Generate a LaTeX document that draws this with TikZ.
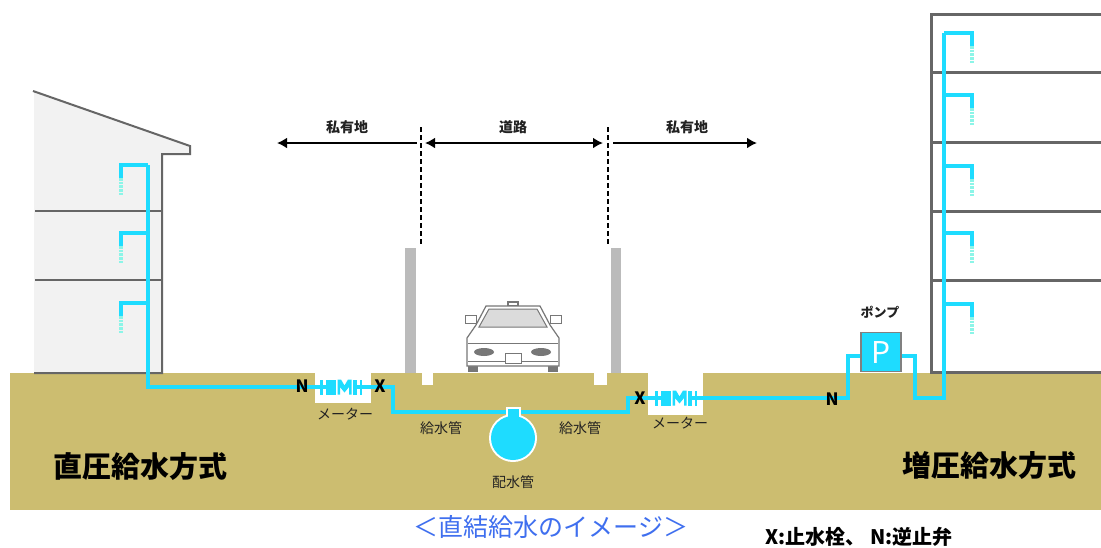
\documentclass[tikz,border=0pt]{standalone}
\usepackage{fontspec}
\newfontfamily\jp{Noto Sans CJK JP}
\usetikzlibrary{arrows.meta}
\definecolor{pipecol}{HTML}{1EDCFF}
\definecolor{pipelt}{HTML}{8CF5E8}
\definecolor{soil}{HTML}{CCBD70}
\definecolor{wallcol}{HTML}{666666}
\definecolor{housefill}{HTML}{F2F2F2}
\definecolor{polecol}{HTML}{BBBBBB}
\definecolor{capblue}{HTML}{3F6FEF}
\definecolor{carline}{HTML}{777777}
\definecolor{textgray}{HTML}{222222}

\tikzset{
  pipeline/.style={draw=pipecol, line width=4pt},
  dropline/.style={draw=pipelt, line width=4pt, dash pattern=on 2.5pt off 1.2pt},
  wallline/.style={draw=wallcol, line width=2pt},
  bldline/.style={draw=wallcol, line width=3pt},
  lbl/.style={font=\jp\fontsize{14}{16}\selectfont, text=textgray, inner sep=0pt},
  zone/.style={font=\jp\bfseries\fontsize{14}{16}\selectfont, text=textgray, inner sep=0pt},
  valve/.style={font=\jp\bfseries\fontsize{17}{18}\selectfont, text=black, inner sep=0pt},
  title/.style={font=\jp\bfseries\fontsize{29}{32}\selectfont, text=black, inner sep=0pt},
  span/.style={line width=2.2pt, draw=black},
  boundary/.style={line width=2pt, draw=black, dash pattern=on 5pt off 3pt},
  meterpic/.pic={
    \fill[pipecol] (-21,-7.5) rectangle (-18.5,7.5);
    \fill[pipecol] (-18.5,-2) rectangle (-15,2);
    \fill[pipecol] (-15,-7.5) rectangle (-5,7.5);
    \fill[pipecol] (-3.5,7.5) -- (-3.5,-7.5) -- (0,-7.5) -- (3.5,-1.5) -- (7,-7.5) -- (10.5,-7.5)
       -- (10.5,7.5) -- (8,7.5) -- (8,0) -- (3.5,5.5) -- (-1,0) -- (-1,7.5) -- cycle;
    \fill[pipecol] (12,-7.5) rectangle (15.5,7.5);
    \fill[pipecol] (15.5,-2) rectangle (18.5,2);
    \fill[pipecol] (18.5,-7.5) rectangle (21,7.5);
  }
}

\begin{document}
\begin{tikzpicture}[x=1pt,y=-1pt]
\useasboundingbox (0,0) rectangle (1101,547);
\fill[white] (0,0) rectangle (1101,547);

% ground and the pits cut into it
\fill[soil] (10,373) rectangle (1101,510);
\fill[white] (315,372) rectangle (371,403);
\fill[white] (648,372) rectangle (703,415);
\fill[white] (422,372) rectangle (433,385);
\fill[white] (594,372) rectangle (607,385);

% curb posts and property boundaries
\fill[polecol] (405,248) rectangle (416,373);
\fill[polecol] (611,248) rectangle (621,373);
\coordinate (bl1) at (421,127); \coordinate (bl2) at (421,245);
\coordinate (br1) at (608,127); \coordinate (br2) at (608,245);
\draw[boundary] (bl1) -- (bl2);
\draw[boundary] (br1) -- (br2);

% extent arrows
\coordinate (a1) at (277,143); \coordinate (a2) at (417,143);
\coordinate (a3) at (425,143); \coordinate (a4) at (603,143);
\coordinate (a5) at (613,143); \coordinate (a6) at (757,143);
\draw[span, {Latex[length=10pt,width=11pt]}-] (a1) -- (a2);
\draw[span, {Latex[length=10pt,width=11pt]}-{Latex[length=10pt,width=11pt]}] (a3) -- (a4);
\draw[span, -{Latex[length=10pt,width=11pt]}] (a5) -- (a6);
\node[zone] (pl) at (347,127) {私有地};
\node[zone] (road) at (513,127) {道路};
\node[zone] (pr) at (687,127) {私有地};

% house on the left
\fill[housefill] (34,91) -- (190,146) -- (190,154) -- (162,154) -- (162,373) -- (34,373) -- cycle;
\draw[wallline] (33,91) -- (190,146) -- (190,154) -- (162,154) -- (162,373) -- (34,373);
\draw[wallline] (35,211) -- (162,211);
\draw[wallline] (35,280) -- (162,280);

% building on the right
\draw[bldline] (1102,14.5) -- (931.5,14.5) -- (931.5,372) -- (1102,372);
\foreach \fy in {72,142,211,280} \draw[bldline] (931.5,\fy) -- (1102,\fy);

% car on the road
\fill[carline] (468,356) rectangle (478,372);
\fill[carline] (548,356) rectangle (558,372);
\draw[carline, fill=white, line width=1.2pt] (508,302) rectangle (518,306);
\draw[carline, fill=white, line width=1.2pt] (467,366) -- (467,338) -- (476,325) -- (486,306)
   -- (540,306) -- (550,325) -- (559,338) -- (559,366) -- cycle;
\draw[carline, fill=black!14, line width=1pt] (489,309) -- (537,309) -- (547,327) -- (479,327) -- cycle;
\draw[carline, fill=white, line width=1pt] (465,315) rectangle (476,323);
\draw[carline, fill=white, line width=1pt] (550,315) rectangle (561,323);
\draw[carline, line width=0.8pt] (468,343) -- (558,343);
\draw[carline, line width=0.8pt] (468,361) -- (558,361);
\fill[carline] (484,352) ellipse (10 and 4);
\fill[carline] (541,352) ellipse (10 and 4);
\draw[carline, fill=white, line width=1pt] (505,353) rectangle (521,363);

% supply pipe, direct-pressure side
\coordinate (lr0) at (148,165);
\coordinate (lr1) at (148,387);
\foreach \yy in {165,233,303} {
  \draw[pipeline] (148,\yy) -| (121,{\yy+13});
  \draw[dropline] (121,{\yy+13}) -- (121,{\yy+30});
}
\draw[pipeline] (lr0) -- (lr1) -- (321,387);
\pic at (341,387) {meterpic};
\draw[pipeline] (361,387) -- (393,387) -- (393,412) -- (628,412) -- (628,398) -- (655,398);
\pic at (676,398) {meterpic};

% distribution main
\fill[white] (505.5,406.5) rectangle (520.5,425);
\fill[white] (513,438) circle (24);
\fill[pipecol] (507.5,408.5) rectangle (518.5,425);
\node[circle, fill=pipecol, inner sep=0pt, minimum size=44pt] (main) at (513,438) {};

% booster side
\node[draw=black!50, fill=pipecol, line width=1.5pt, minimum width=40pt, minimum height=39pt,
      inner sep=0pt, font=\jp\fontsize{30}{30}\selectfont, text=white] (pump) at (881,352) {P};
\coordinate (rr1) at (944,398);
\coordinate (rr0) at (944,33);
\draw[pipeline] (696,398) -- (848,398) -- (848,356) -- (pump.west |- 0,356);
\draw[pipeline] (pump.east |- 0,356) -- (915,356) -- (915,398) -- (rr1) -- (rr0);
\foreach \yy in {33,95,166,233,304} {
  \draw[pipeline] (944,\yy) -| (972,{\yy+13});
  \draw[dropline] (972,{\yy+13}) -- (972,{\yy+30});
}

% valves
\node[valve] (n1) at (302,386) {N};
\node[valve] (x1) at (380,386) {X};
\node[valve] (x2) at (640,398) {X};
\node[valve] (n2) at (832,399) {N};

% labels
\node[lbl] (m1) at (345,414) {メーター};
\node[lbl] (m2) at (680,423) {メーター};
\node[lbl] (s1) at (441,428) {給水管};
\node[lbl] (s2) at (580,428) {給水管};
\node[lbl] (dm) at (513,482) {配水管};
\node[zone, font=\jp\bfseries\fontsize{13}{15}\selectfont] (pl2) at (880,312) {ポンプ};
\node[title] (t1) at (140,467) {直圧給水方式};
\node[title] (t2) at (989,466) {増圧給水方式};
\node[inner sep=0pt, text=capblue, font=\jp\fontsize{25}{27}\selectfont] (cap) at (551,527) {＜直結給水のイメージ＞};
\node[inner sep=0pt, text=black, font=\jp\bfseries\fontsize{20}{22}\selectfont] (key) at (859,537) {X:止水栓、 N:逆止弁};
\end{tikzpicture}
\end{document}
